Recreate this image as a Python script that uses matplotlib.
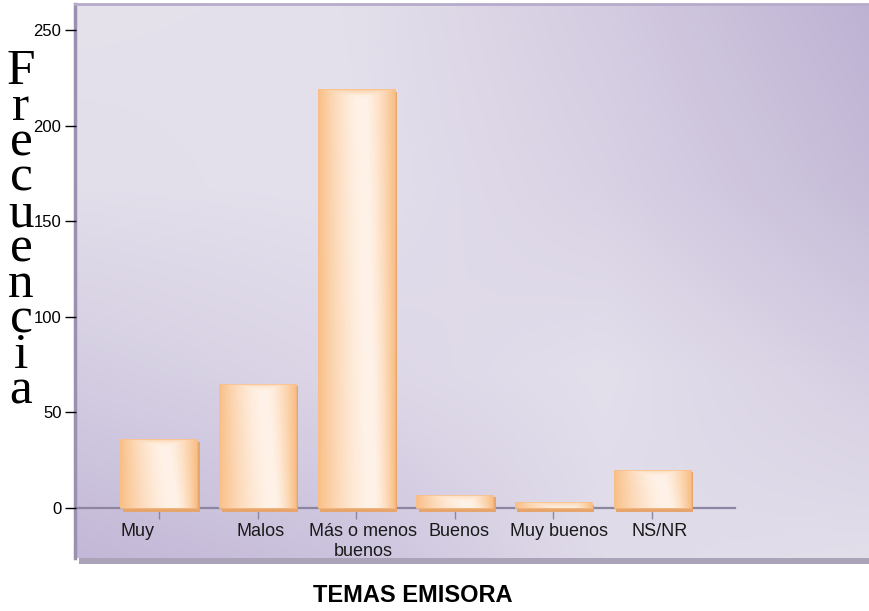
import numpy as np
import matplotlib
matplotlib.use('Agg')
import matplotlib.pyplot as plt
from matplotlib.colors import to_rgb
from matplotlib.patches import Rectangle
from matplotlib.transforms import ScaledTranslation

# ---------------- data ----------------
categories = ['Muy', 'Malos', 'Más o menos\nbuenos', 'Buenos', 'Muy buenos', 'NS/NR']
values = [36, 65, 219, 7, 3, 20]
yticks = [0, 50, 100, 150, 200, 250]
ylabel = 'Frecuencia'
xlabel = 'TEMAS EMISORA'

# ---------------- figure ----------------
W, H = 869, 611
fig = plt.figure(figsize=(W / 100, H / 100), dpi=100)
fig.patch.set_facecolor('white')
plt.rcParams['font.family'] = ['Liberation Sans', 'DejaVu Sans']


def fx(px):
    return px / W


def fy(py):
    return (H - py) / H


# shadow under the panel
fig.patches.append(Rectangle((fx(79), fy(564)), fx(869) - fx(79), fy(558) - fy(564),
                             transform=fig.transFigure, facecolor='#ABA3B7',
                             edgecolor='none', zorder=0))

# gradient panel
grid_hex = [
    ['#E6E2EC', '#E4E0EB', '#D4CCE1', '#BEB2D3'],
    ['#E2DEEA', '#E4E0EC', '#D9D2E5', '#C6BCD8'],
    ['#D4CDE2', '#DCD6E7', '#E3DFEB', '#D6CFE3'],
    ['#C3B8D7', '#CBC2DD', '#E0DBE9', '#E2DEEA'],
]


def interp_grid(g, ny, nx):
    gy, gx, _ = g.shape
    xs = np.linspace(0, gx - 1, nx)
    ys = np.linspace(0, gy - 1, ny)
    tmp = np.empty((gy, nx, 3))
    for r in range(gy):
        for c in range(3):
            tmp[r, :, c] = np.interp(xs, np.arange(gx), g[r, :, c])
    out = np.empty((ny, nx, 3))
    for c in range(3):
        for col in range(nx):
            out[:, col, c] = np.interp(ys, np.arange(gy), tmp[:, col, c])
    return out


grid = np.array([[to_rgb(c) for c in row] for row in grid_hex])
panel_img = interp_grid(grid, 280, 400)

pax = fig.add_axes([fx(75), fy(558), fx(869) - fx(75), fy(4) - fy(558)], zorder=1)
pax.imshow(panel_img, extent=[0, 1, 0, 1], aspect='auto', origin='upper',
           interpolation='bilinear')
pax.set_xlim(0, 1)
pax.set_ylim(0, 1)
pax.set_xticks([])
pax.set_yticks([])
pax.spines['right'].set_visible(False)
pax.spines['bottom'].set_visible(False)
pax.spines['left'].set_color('#9A90B0')
pax.spines['left'].set_linewidth(2.5)
pax.spines['top'].set_color('#B6ABCA')
pax.spines['top'].set_linewidth(2)

# ---------------- main axes ----------------
ax = fig.add_axes([fx(76), fy(508), fx(735) - fx(76), fy(30) - fy(508)], zorder=2)
ax.set_facecolor('none')
x = np.arange(len(categories))
bw = 0.78


def bar_img(nv=160, nu=80, aspect=1.0):
    u = np.linspace(0, 1, nu)[None, :]
    v = np.linspace(1, 0, nv)[:, None]
    c = 0.72 - 0.14 * v
    fh = np.clip(np.abs(u - c) / np.where(u < c, c, 1 - c), 0, 1) ** 1.6
    top_px = (1 - v) * aspect
    ft = np.clip(1 - top_px / 0.12, 0, 1) ** 2 * 0.6
    f = np.maximum(fh, ft)
    light = np.array(to_rgb('#FFF3E9'))
    orange = np.array(to_rgb('#F9BF86'))
    return light * (1 - f[..., None]) + orange * f[..., None]


px_per_unit_y = 478 / 250
px_per_unit_x = 659 / 6.68
for xc, v in zip(x, values):
    left = xc - bw / 2
    sh = Rectangle((left + 0.025, -2.3), bw, v + 1.0, facecolor='#E6A56C',
                   edgecolor='none', zorder=2, clip_on=False)
    ax.add_patch(sh)
    r = Rectangle((left, 0), bw, v, facecolor='none', edgecolor='#F7BE88',
                  linewidth=0.5, zorder=4, clip_on=False)
    ax.add_patch(r)
    aspect = (v * px_per_unit_y) / (bw * px_per_unit_x)
    im = ax.imshow(bar_img(aspect=aspect), extent=[left, left + bw, 0, v], aspect='auto',
                   origin='upper', interpolation='bilinear', zorder=3)
    im.set_clip_path(r)

ax.set_xlim(-0.84, 5.84)
ax.set_ylim(0, 250)
for s in ['top', 'right', 'left']:
    ax.spines[s].set_visible(False)
ax.spines['bottom'].set_color('#8E86A0')
ax.spines['bottom'].set_linewidth(1.6)
ax.spines['bottom'].set_zorder(1)

ax.set_yticks(yticks)
ax.set_yticklabels([str(t) for t in yticks])
ax.tick_params(axis='y', direction='out', length=8, width=1, color='black',
               labelsize=12, pad=2.5, labelcolor='black')
ax.set_xticks(x)
ax.set_xticklabels(categories, fontsize=13, linespacing=1.2)
ax.tick_params(axis='x', direction='out', length=8, width=1, color='#8E86A0',
               pad=3, labelcolor='#1a1a1a')

label_dx_px = [-21, 3, 7, 4, 6, 7]
for lab, dx in zip(ax.get_xticklabels(), label_dx_px):
    lab.set_transform(lab.get_transform() + ScaledTranslation(dx / 100, 0, fig.dpi_scale_trans))

# stacked vertical y label
fig.text(fx(21), fy(49), '\n'.join(ylabel), family=['Liberation Serif', 'DejaVu Serif'],
         fontsize=37, ha='center', va='top', linespacing=0.69, multialignment='center')

fig.text(fx(413), fy(595), xlabel, fontsize=17, fontweight='bold', ha='center', va='center')

fig.savefig('out.png', dpi=100)
